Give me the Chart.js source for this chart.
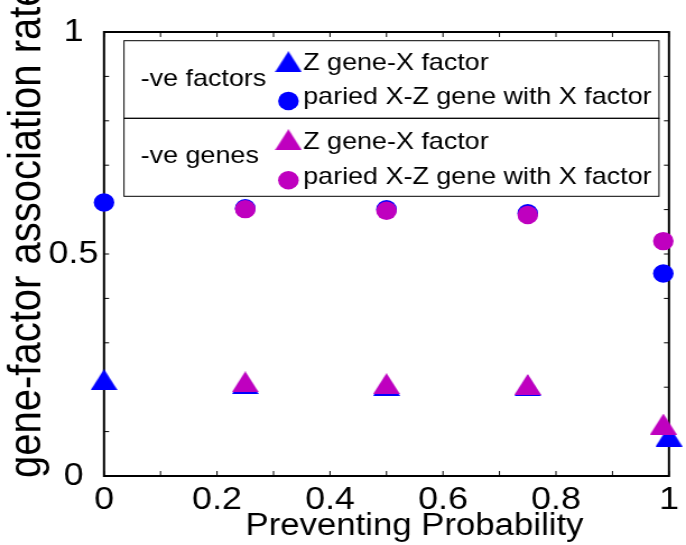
<!DOCTYPE html>
<html>
<head>
<meta charset="utf-8">
<script src="https://cdn.jsdelivr.net/npm/chart.js@4"></script>
<style>
  html, body { margin: 0; padding: 0; background: #fff; overflow: hidden; }
  #c { display: block; }
</style>
</head>
<body>
<canvas id="c" width="612" height="545" style="width:686px;height:545px"></canvas>
<script>
// ---------- data ----------
const factorsTriX = [0, 0.25, 0.5, 0.75, 1.0];
const factorsTriY = [0.217, 0.208, 0.204, 0.203, 0.090];
const factorsCircX = [0, 0.25, 0.5, 0.75, 0.99];
const factorsCircY = [0.616, 0.603, 0.601, 0.592, 0.456];
const genesTriX = [0.25, 0.5, 0.75, 0.99];
const genesTriY = [0.212, 0.208, 0.206, 0.117];
const genesCircX = [0.25, 0.5, 0.75, 0.99];
const genesCircY = [0.601, 0.5975, 0.588, 0.529];

const xTickValues = [0, 0.2, 0.4, 0.6, 0.8, 1];
const xTickLabels = ['0', '0.2', '0.4', '0.6', '0.8', '1'];
const yTickValues = [0, 0.5, 1];
const yTickLabels = ['0', '0.5', '1'];
const minorTicks = [0, 0.1, 0.2, 0.3, 0.4, 0.5, 0.6, 0.7, 0.8, 0.9, 1];

const xTitle = 'Preventing Probability';
const yTitle = 'gene-factor association rate';
const groupLabels = ['-ve factors', '-ve genes'];
const seriesLabels = ['Z gene-X factor', 'paried X-Z gene with X factor'];

// ---------- styles ----------
const BLUE = '#0000ff';
const MAGENTA = '#bf00bf';
const FONT = "'Liberation Sans', Arial, Helvetica, sans-serif";
const W = 612, H = 545;
const AREA = { left: 92.8, right: 596.8, top: 32, bottom: 476 };

function makeTriangle(color) {
  const c = document.createElement('canvas');
  c.width = 24; c.height = 21;
  const g = c.getContext('2d');
  g.fillStyle = color;
  g.beginPath();
  g.moveTo(12, 0); g.lineTo(24, 21); g.lineTo(0, 21); g.closePath();
  g.fill();
  return c;
}
const triBlue = makeTriangle(BLUE);
const triMag = makeTriangle(MAGENTA);

const pts = (xs, ys) => xs.map((v, i) => ({ x: v, y: ys[i] }));

const frame = {
  id: 'frame',
  beforeDatasetsDraw(chart) {
    const { ctx, chartArea: a, scales: { x, y } } = chart;
    ctx.save();
    ctx.strokeStyle = '#000';
    ctx.lineWidth = 1;
    ctx.beginPath();
    minorTicks.forEach(v => {
      const px = x.getPixelForValue(v);
      ctx.moveTo(px, a.bottom); ctx.lineTo(px, a.bottom - 5);
      ctx.moveTo(px, a.top); ctx.lineTo(px, a.top + 5);
      const py = y.getPixelForValue(v);
      ctx.moveTo(a.left, py); ctx.lineTo(a.left + 4.5, py);
      ctx.moveTo(a.right, py); ctx.lineTo(a.right - 4.5, py);
    });
    ctx.stroke();
    ctx.lineWidth = 2;
    ctx.strokeRect(a.left, a.top, a.right - a.left, a.bottom - a.top);
    ctx.restore();
  },
  afterDraw(chart) {
    const ctx = chart.ctx;
    ctx.save();
    // axis titles
    ctx.fillStyle = '#000';
    ctx.textBaseline = 'alphabetic';
    ctx.textAlign = 'left';
    ctx.font = `31px ${FONT}`;
    ctx.fillText(xTitle, 219, 534.5);
    ctx.save();
    ctx.translate(36, 478);
    ctx.rotate(-Math.PI / 2);
    ctx.font = `40px ${FONT}`;
    ctx.fillText(yTitle, 0, 0);
    ctx.restore();

    // legend boxes
    const L = 110.6, R = 587.9;
    const rows = [40.7, 118.3, 196.3];
    ctx.fillStyle = '#fff';
    ctx.fillRect(L, rows[0], R - L, rows[2] - rows[0]);
    ctx.strokeStyle = '#000';
    ctx.lineWidth = 1;
    ctx.strokeRect(L, rows[0], R - L, rows[1] - rows[0]);
    ctx.strokeRect(L, rows[1], R - L, rows[2] - rows[1]);

    ctx.fillStyle = '#000';
    ctx.font = `24px ${FONT}`;
    ctx.fillText(groupLabels[0], 125.5, 86.3);
    ctx.fillText(groupLabels[1], 125.5, 163);

    const mx = 257.3;
    const groups = [
      { tri: triBlue, col: BLUE, triY: 61.7, circY: 101, t1: 70, t2: 104.3 },
      { tri: triMag, col: MAGENTA, triY: 139.7, circY: 180.3, t1: 149, t2: 184.3 }
    ];
    groups.forEach(gp => {
      ctx.drawImage(gp.tri, mx - 12, gp.triY - 10.5);
      ctx.fillStyle = gp.col;
      ctx.beginPath();
      ctx.arc(mx, gp.circY, 9.2, 0, Math.PI * 2);
      ctx.fill();
      ctx.fillStyle = '#000';
      ctx.fillText(seriesLabels[0], 270.5, gp.t1);
      ctx.fillText(seriesLabels[1], 270.5, gp.t2);
    });
    ctx.restore();
  }
};

new Chart(document.getElementById('c'), {
  type: 'scatter',
  data: {
    datasets: [
      { label: groupLabels[1] + ' ' + seriesLabels[1], data: pts(genesCircX, genesCircY),
        pointStyle: 'circle', pointRadius: 9.2, backgroundColor: MAGENTA, borderWidth: 0, clip: false },
      { label: groupLabels[1] + ' ' + seriesLabels[0], data: pts(genesTriX, genesTriY),
        pointStyle: triMag, pointRadius: 11, backgroundColor: MAGENTA, borderWidth: 0, clip: false },
      { label: groupLabels[0] + ' ' + seriesLabels[1], data: pts(factorsCircX, factorsCircY),
        pointStyle: 'circle', pointRadius: 9.2, backgroundColor: BLUE, borderWidth: 0, clip: false },
      { label: groupLabels[0] + ' ' + seriesLabels[0], data: pts(factorsTriX, factorsTriY),
        pointStyle: triBlue, pointRadius: 11, backgroundColor: BLUE, borderWidth: 0, clip: false }
    ]
  },
  options: {
    responsive: false,
    animation: false,
    devicePixelRatio: 1,
    events: [],
    layout: { padding: { left: 0, top: AREA.top, right: W - AREA.right, bottom: 0 } },
    plugins: { legend: { display: false }, title: { display: false }, tooltip: { enabled: false } },
    scales: {
      x: {
        type: 'linear', min: 0, max: 1,
        afterBuildTicks: s => { s.ticks = xTickValues.map(v => ({ value: v })); },
        afterFit: s => { s.height = H - AREA.bottom; },
        ticks: {
          callback: (v, i) => xTickLabels[i],
          font: { size: 32, family: FONT }, color: '#000', padding: 5,
          maxRotation: 0, autoSkip: false
        },
        grid: { display: false, drawTicks: false },
        border: { display: false }
      },
      y: {
        type: 'linear', min: 0, max: 1,
        afterBuildTicks: s => { s.ticks = yTickValues.map(v => ({ value: v })); },
        afterFit: s => { s.width = AREA.left; },
        ticks: {
          callback: (v, i) => yTickLabels[i],
          font: { size: 32, family: FONT }, color: '#000', padding: 5,
          crossAlign: 'center', autoSkip: false
        },
        grid: { display: false, drawTicks: false },
        border: { display: false }
      }
    }
  },
  plugins: [frame]
});
</script>
</body>
</html>
